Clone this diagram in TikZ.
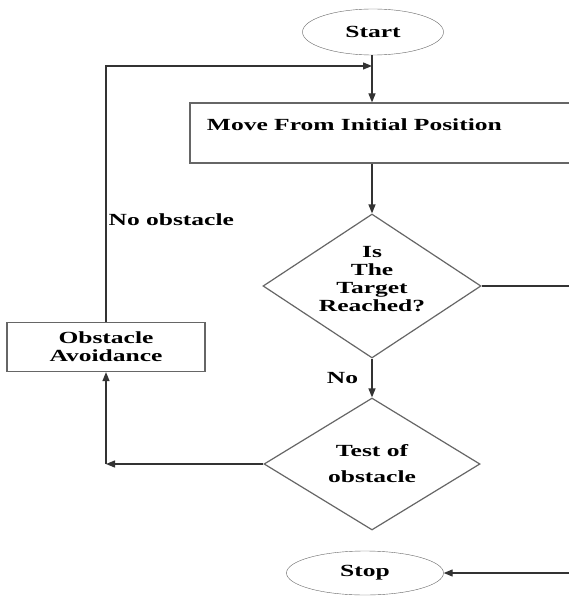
\documentclass[tikz,border=0pt]{standalone}
\usepackage{fontspec}
\newfontfamily\chartfont{Liberation Serif}[FakeStretch=1.5]
\usetikzlibrary{shapes.geometric,arrows.meta,positioning}
\tikzstyle{txt} = [font=\chartfont\bfseries\fontsize{17}{18}\selectfont,align=center,text=black]
\tikzstyle{terminal} = [txt,draw=gray!80!black,thin,ellipse,inner sep=0]
\tikzstyle{process} = [txt,draw=gray!80!black,line width=1.2pt,rectangle,inner sep=0]
\tikzstyle{decision} = [txt,draw=gray!80!black,line width=1.2pt,diamond,aspect=1.5,inner sep=0]
\tikzstyle{arrow} = [draw=black!80,line width=1.2pt,-{Triangle[length=9pt,width=7pt]}]
\tikzstyle{line} = [draw=black!80,line width=1.2pt]

\begin{document}
\begin{tikzpicture}[x=1pt,y=-1pt]
      \useasboundingbox[fill=white] (0,0) rectangle (568,596);
      \node[terminal,minimum width=141pt,minimum height=46pt] (start) at (373,32) {\raisebox{-2pt}{Start}};
      \node[process,minimum width=430pt,minimum height=60pt] (move) at (405,133) {};
      \node[txt,anchor=west] (movetxt) at ([xshift=14pt,yshift=8pt]move.west) {Move From Initial Position};
      \node[decision,minimum width=218pt,minimum height=144pt] (test1) at (372,286) {};
      \node[txt] (test1txt) at ([yshift=7pt]test1.center) {Is\\The\\Target\\Reached?};
      \node[decision,minimum width=216pt,minimum height=132pt] (test2) at (372,464) {Test of\\[8pt]obstacle};
      \node[process,minimum width=198pt,minimum height=49pt] (avoid) at (106,347) {Obstacle\\Avoidance};
      \node[terminal,minimum width=157pt,minimum height=44pt] (stop) at (365,573) {Stop};
      \coordinate (loop) at (372,66);
      \coordinate (corner) at (avoid.south |- test2.west);
      \coordinate (rturn) at ([xshift=110pt]test1.east);
      \draw[arrow] (start.south -| loop) -- (loop |- move.north);
      \draw[arrow] (loop |- move.south) -- (test1.north);
      \draw[arrow] (test1.south) -- node[txt,left=10pt]{No} (test2.north);
      \draw[arrow] (test2.west) -- (corner);
      \draw[arrow] (corner) -- (avoid.south);
      \draw[arrow] (avoid.north) -- node[txt,pos=0.4,right,inner sep=2pt]{No obstacle} (avoid.north |- loop) -- (loop);
      \draw[arrow] (test1.east) -- (rturn) -- (rturn |- stop) -- (stop.east);
    \end{tikzpicture}
\end{document}
